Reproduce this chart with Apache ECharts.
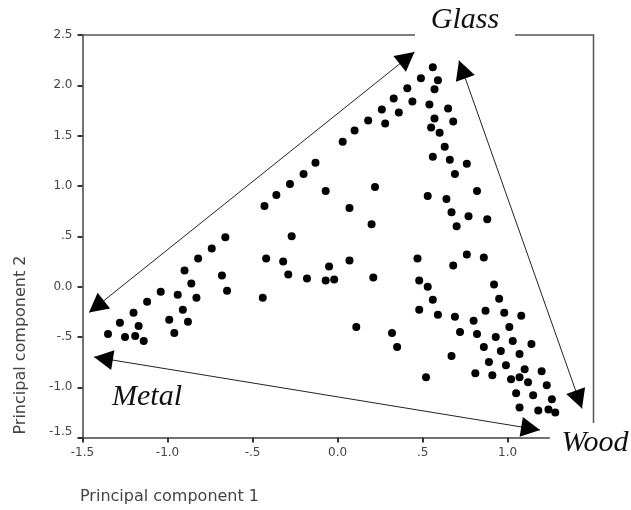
<!DOCTYPE html>
<html>
<head>
<meta charset="utf-8">
<script src="https://cdn.jsdelivr.net/npm/echarts@6.0.0/dist/echarts.min.js"></script>
<style>
    html, body { margin: 0; padding: 0; background: #fff; }
    #scatterChart { width: 631px; height: 510px; }
</style>
</head>
<body>
<div id="scatterChart"></div>
<script>
// principal component scores
var pc1 = [-0.43, -0.36, -0.28, -0.20, -0.13, -0.07, 0.03, 0.10, 0.18, 0.26,
    0.33, 0.41, 0.49, 0.56, 0.59, 0.57, 0.44, 0.54, 0.36, 0.28,
    0.57, 0.55, 0.60, 0.65, 0.68, 0.63, 0.56, 0.66, 0.76, 0.69,
    0.22, 0.07, 0.20, 0.53, 0.64, 0.82, 0.67, 0.77, 0.88, 0.70,
    -0.66, -0.27, -0.74, -0.82, -0.42, -0.32, -0.90, -0.86, -1.04, -0.94,
    -0.83, -1.12, -0.91, -1.20, -0.99, -0.88, -1.28, -1.17, -1.35, -0.96,
    -1.25, -1.19, -1.14, -0.68, -0.65, -0.29, -0.18, -0.44, -0.05, -0.07,
    -0.02, 0.07, 0.21, 0.47, 0.48, 0.53, 0.56, 0.48, 0.59, 0.11,
    0.32, 0.35, 0.52, 0.68, 0.76, 0.86, 0.92, 0.95, 0.87, 0.98,
    1.08, 0.69, 0.80, 1.01, 0.72, 0.82, 0.93, 1.03, 1.14, 0.86,
    0.96, 1.07, 0.67, 0.89, 0.99, 1.10, 0.81, 0.91, 1.20, 1.02,
    1.07, 1.12, 1.23, 1.05, 1.15, 1.26, 1.07, 1.18, 1.24, 1.28];
var pc2 = [0.80, 0.91, 1.02, 1.12, 1.23, 0.95, 1.44, 1.55, 1.65, 1.76,
    1.87, 1.97, 2.07, 2.18, 2.05, 1.96, 1.84, 1.81, 1.73, 1.62,
    1.67, 1.58, 1.53, 1.77, 1.64, 1.39, 1.29, 1.26, 1.22, 1.12,
    0.99, 0.78, 0.62, 0.90, 0.87, 0.95, 0.74, 0.70, 0.67, 0.60,
    0.49, 0.50, 0.38, 0.28, 0.28, 0.25, 0.16, 0.03, -0.05, -0.08,
    -0.11, -0.15, -0.23, -0.26, -0.33, -0.35, -0.36, -0.39, -0.47, -0.46,
    -0.50, -0.49, -0.54, 0.11, -0.04, 0.12, 0.08, -0.11, 0.20, 0.06,
    0.07, 0.26, 0.09, 0.28, 0.06, 0.00, -0.13, -0.23, -0.28, -0.40,
    -0.46, -0.60, -0.90, 0.21, 0.32, 0.29, 0.02, -0.12, -0.24, -0.26,
    -0.29, -0.30, -0.34, -0.40, -0.45, -0.47, -0.50, -0.54, -0.57, -0.60,
    -0.64, -0.67, -0.69, -0.75, -0.78, -0.82, -0.86, -0.88, -0.84, -0.92,
    -0.90, -0.95, -0.98, -1.06, -1.08, -1.12, -1.20, -1.23, -1.22, -1.25];

var xTicks = [-1.5, -1.0, -0.5, 0.0, 0.5, 1.0];
var xTickLabels = ['-1.5', '-1.0', '-.5', '0.0', '.5', '1.0'];
var yTicks = [-1.5, -1.0, -0.5, 0.0, 0.5, 1.0, 1.5, 2.0, 2.5];
var yTickLabels = ['-1.5', '-1.0', '-.5', '0.0', '.5', '1.0', '1.5', '2.0', '2.5'];

// hand drawn annotations (pixels)
var arrows = [
    [[89, 312.5], [414.5, 52]],
    [[459, 60.5], [582, 408.5]],
    [[94, 357], [540, 430]]
];

function tickLabel(ticks, labels) {
    return function (v) {
        for (var i = 0; i < ticks.length; i++) {
            if (Math.abs(ticks[i] - v) < 1e-6) return labels[i];
        }
        return '';
    };
}

function arrowHead(tip, from) {
    var dx = tip[0] - from[0], dy = tip[1] - from[1];
    var len = Math.sqrt(dx * dx + dy * dy);
    var ux = dx / len, uy = dy / len;
    var bx = tip[0] - ux * 19, by = tip[1] - uy * 19;
    return {
        type: 'polygon',
        shape: { points: [tip, [bx - uy * 10, by + ux * 10], [bx + uy * 10, by - ux * 10]] },
        style: { fill: '#000' }
    };
}

var annotations = [];
arrows.forEach(function (a) {
    annotations.push({
        type: 'line',
        shape: { x1: a[0][0], y1: a[0][1], x2: a[1][0], y2: a[1][1] },
        style: { stroke: '#222', lineWidth: 1 }
    });
    annotations.push(arrowHead(a[0], a[1]));
    annotations.push(arrowHead(a[1], a[0]));
});
annotations.push({
    type: 'polyline',
    shape: { points: [[82.5, 35], [415, 35]] },
    style: { stroke: '#555', lineWidth: 1.5, fill: null }
});
annotations.push({
    type: 'polyline',
    shape: { points: [[515, 35], [593.5, 35], [593.5, 423]] },
    style: { stroke: '#555', lineWidth: 1.5, fill: null }
});
var labelFont = 'italic 30px "Liberation Serif"';
annotations.push({ type: 'text', x: 465, y: 20, style: { text: 'Glass', font: labelFont, fill: '#111', textAlign: 'center', textVerticalAlign: 'middle' } });
annotations.push({ type: 'text', x: 147, y: 397, style: { text: 'Metal', font: labelFont, fill: '#111', textAlign: 'center', textVerticalAlign: 'middle' } });
annotations.push({ type: 'text', x: 595, y: 443, style: { text: 'Wood', font: labelFont, fill: '#111', textAlign: 'center', textVerticalAlign: 'middle' } });
annotations.push({ type: 'text', x: 80, y: 497, style: { text: 'Principal component 1', font: '16px "DejaVu Sans"', fill: '#444', textAlign: 'left', textVerticalAlign: 'middle' } });
annotations.push({ type: 'text', x: 21, y: 345, rotation: Math.PI / 2, style: { text: 'Principal component 2', font: '16px "DejaVu Sans"', fill: '#444', textAlign: 'center', textVerticalAlign: 'middle' } });

var points = pc1.map(function (x, i) { return [x, pc2[i]]; });

var scatterChart = echarts.init(document.getElementById('scatterChart'));
var option = {
    animation: false,
    grid: {
        left: 82.5,
        right: 81.7,
        top: 35,
        bottom: 72.4
    },
    xAxis: {
        type: 'value',
        min: -1.5,
        max: 1.245,
        axisLine: { onZero: false, lineStyle: { color: '#444', width: 1.5 } },
        axisTick: { customValues: xTicks, length: 5, lineStyle: { color: '#333', width: 2 } },
        axisLabel: {
            customValues: xTicks,
            formatter: tickLabel(xTicks, xTickLabels),
            margin: 9,
            fontFamily: 'DejaVu Sans',
            fontSize: 12,
            color: '#444'
        },
        splitLine: { show: false }
    },
    yAxis: {
        type: 'value',
        min: -1.5,
        max: 2.5,
        interval: 0.5,
        axisLine: { show: true, onZero: false, lineStyle: { color: '#444', width: 1.5 } },
        axisTick: { show: true, length: 5, lineStyle: { color: '#333', width: 2 } },
        axisLabel: {
            formatter: tickLabel(yTicks, yTickLabels),
            margin: 10,
            fontFamily: 'DejaVu Sans',
            fontSize: 12,
            color: '#444',
            verticalAlignMinLabel: 'bottom'
        },
        splitLine: { show: false }
    },
    graphic: annotations,
    series: [
        {
            type: 'scatter',
            clip: false,
            symbol: 'circle',
            symbolSize: 8,
            itemStyle: { color: '#000', opacity: 1 },
            data: points
        }
    ]
};
scatterChart.setOption(option);
</script>
</body>
</html>
